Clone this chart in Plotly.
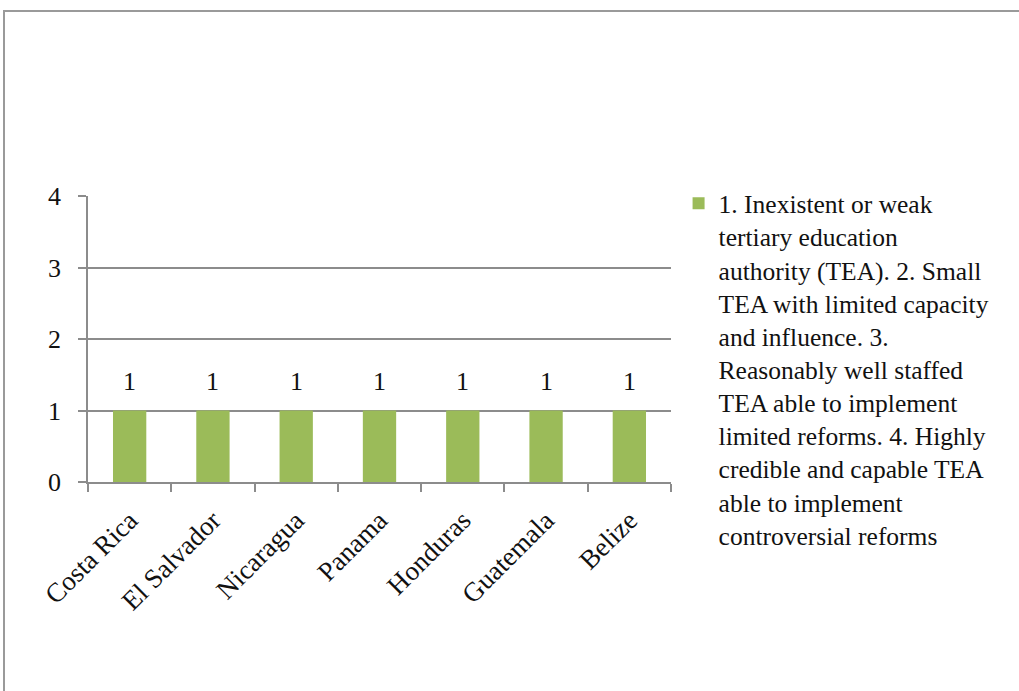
import plotly.graph_objects as go

# Tertiary education authority score by country
countries = ["Costa Rica", "El Salvador", "Nicaragua", "Panama", "Honduras", "Guatemala", "Belize"]
scores = [1, 1, 1, 1, 1, 1, 1]
y_ticks = [0, 1, 2, 3, 4]
series_name = ("1. Inexistent or weak<br>tertiary education<br>authority (TEA). 2. Small<br>"
               "TEA with limited capacity<br>and influence. 3.<br>Reasonably well staffed<br>"
               "TEA able to implement<br>limited reforms. 4. Highly<br>credible and capable TEA<br>"
               "able to implement<br>controversial reforms")

GREEN = "#9BBB59"
GREY = "#8C8C8C"
FONT = "Liberation Serif"
INK = "#111111"

fig = go.Figure()
fig.add_trace(go.Bar(
    x=countries, y=scores, name=series_name,
    marker=dict(color=GREEN, line=dict(width=0)),
    width=0.4, showlegend=True,
))

# value labels above each bar
for c, v in zip(countries, scores):
    fig.add_annotation(x=c, y=v, text=str(v), showarrow=False,
                       yanchor="bottom", yshift=13,
                       font=dict(family=FONT, size=26, color=INK))

fig.update_layout(
    width=1019, height=691,
    margin=dict(l=88, r=348, t=196, b=209, autoexpand=False),
    paper_bgcolor="white", plot_bgcolor="white",
    font=dict(family=FONT, size=26, color=INK),
    bargap=0.6,
    showlegend=True,
    legend=dict(
        x=1.013, xanchor="left", y=1.055, yanchor="top",
        valign="top", itemwidth=30, maxheight=600,
        font=dict(family=FONT, size=25.5, color=INK),
        bgcolor="rgba(0,0,0,0)",
    ),
    xaxis=dict(
        type="category", tickangle=-45,
        showline=True, linecolor=GREY, linewidth=1.5,
        ticks="outside", tickson="boundaries", ticklen=8,
        tickcolor=GREY, tickwidth=1.5,
        showgrid=False, mirror=False, ticklabelstandoff=10,
        tickfont=dict(family=FONT, size=27, color=INK),
    ),
    yaxis=dict(
        range=[0, 4], tickvals=y_ticks,
        showline=True, linecolor=GREY, linewidth=1.5,
        ticks="outside", ticklen=8, tickcolor=GREY, tickwidth=1.5,
        showgrid=True, gridcolor=GREY, gridwidth=1.5,
        zeroline=False, ticklabelstandoff=12,
        tickfont=dict(family=FONT, size=26, color=INK),
    ),
    shapes=[
        # outer frame of the chart area
        dict(type="rect", xref="paper", yref="paper",
             xsizemode="pixel", ysizemode="pixel",
             xanchor=0, yanchor=1,
             x0=-84, x1=1000, y0=185, y1=-700,
             line=dict(color="#9A9A9A", width=2), fillcolor="rgba(0,0,0,0)",
             layer="below"),
    ],
)

fig.write_html("out.html")
